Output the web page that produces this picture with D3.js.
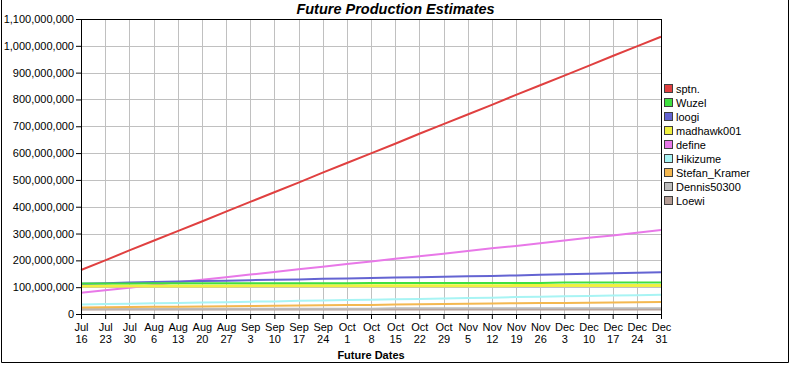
<!DOCTYPE html>
<html>
<head>
<meta charset="utf-8">
<script src="https://cdn.jsdelivr.net/npm/d3@7"></script>
<style>
  body { margin: 0; background: #fff; }
  svg { display: block; font-family: "Liberation Sans", Arial, sans-serif; }
</style>
</head>
<body>
<svg id="chart"></svg>
<script>
// weekly dates, Jul 16 .. Dec 31
const dateLabels = ["2012-07-16","2012-07-23","2012-07-30","2012-08-06","2012-08-13","2012-08-20","2012-08-27",
  "2012-09-03","2012-09-10","2012-09-17","2012-09-24","2012-10-01","2012-10-08","2012-10-15","2012-10-22",
  "2012-10-29","2012-11-05","2012-11-12","2012-11-19","2012-11-26","2012-12-03","2012-12-10","2012-12-17",
  "2012-12-24","2012-12-31"];

const seriesNames = ["sptn.", "Wuzel", "loogi", "madhawk001", "define", "Hikizume", "Stefan_Kramer", "Dennis50300", "Loewi"];
const seriesColors = ["#e04040", "#40e040", "#6464d2", "#f0f040", "#e878e8", "#a8f4f4", "#f4b850", "#bcbcbc", "#b49c94"];

// values in millions
const sptn = [164,200,237,273,309,345,382,418,454,490,527,563,599,635,672,708,744,780,817,853,889,925,962,998,1034];
const wuzel = [114,114,114,115,115,115,115,115,115,115,115,115,116,116,116,116,116,116,116,116,117,117,117,117,117];
const loogi = [113,115,117,119,121,123,124,126,128,129,131,132,134,136,137,139,141,142,144,146,148,150,152,154,156];
const madhawk = [104,104,104,104,104,104,104,105,105,105,105,105,105,105,105,105,105,105,106,106,106,106,106,106,106];
const define = [79,89,98,108,118,128,137,147,157,167,176,186,196,206,215,225,235,245,254,264,274,284,293,303,313];
const hikizume = [35,37,38,40,41,43,44,46,47,49,50,52,53,55,56,58,60,61,63,64,66,67,69,70,72];
const stefan = [24,25,26,27,27,28,29,30,31,32,33,34,34,35,36,37,38,39,40,41,41,42,43,44,45];
const dennis = [20,20,20,20,20,20,20,20,20,20,20,20,20,21,21,21,21,21,21,21,21,21,21,21,21];
const loewi = [17,17,17,17,17,17,17,17,17,17,17,17,17,17,17,17,17,17,17,17,17,17,17,17,17];
const seriesValues = [sptn, wuzel, loogi, madhawk, define, hikizume, stefan, dennis, loewi];

const yTicks = d3.range(0, 1100000001, 100000000);

const width = 791, height = 365;
const margin = { top: 19, right: 130, bottom: 51, left: 81 };

const svg = d3.select("#chart").attr("width", width).attr("height", height);
const parse = d3.utcParse("%Y-%m-%d");
const dates = dateLabels.map(parse);

const x = d3.scaleUtc()
  .domain(d3.extent(dates))
  .range([margin.left, width - margin.right]);
const y = d3.scaleLinear()
  .domain([0, 1100000000])
  .range([height - margin.bottom, margin.top]);

// outer frame (top edge is cut off in the original)
svg.append("path")
  .attr("d", `M1.5,0V${height - 2.5}H${width - 2.5}V0`)
  .attr("fill", "none").attr("stroke", "#000").attr("stroke-width", 1);

// grid
svg.append("g").selectAll("line").data(dates).join("line")
  .attr("x1", d => Math.round(x(d)) + 0.5).attr("x2", d => Math.round(x(d)) + 0.5)
  .attr("y1", y(1100000000)).attr("y2", y(0))
  .attr("stroke", "#c0c0c0");
svg.append("g").selectAll("line").data(yTicks).join("line")
  .attr("x1", x(dates[0])).attr("x2", x(dates[dates.length - 1]))
  .attr("y1", d => Math.round(y(d)) + 0.5).attr("y2", d => Math.round(y(d)) + 0.5)
  .attr("stroke", "#c0c0c0");

// series, drawn last-to-first so sptn ends on top
const line = d3.line()
  .x((d, i) => x(dates[i]))
  .y(d => y(d * 1000000));
seriesValues.slice().reverse().forEach((vals, k) => {
  const i = seriesValues.length - 1 - k;
  svg.append("path")
    .datum(vals)
    .attr("fill", "none")
    .attr("stroke", seriesColors[i])
    .attr("stroke-width", i === 3 ? 3 : 2)
    .attr("d", line);
});

// plot frame
svg.append("rect")
  .attr("x", Math.round(x(dates[0])) + 0.5).attr("y", Math.round(y(1100000000)) + 0.5)
  .attr("width", Math.round(x(dates[dates.length - 1])) - Math.round(x(dates[0])))
  .attr("height", Math.round(y(0)) - Math.round(y(1100000000)))
  .attr("fill", "none").attr("stroke", "#000");

// axes
const yAxis = d3.axisLeft(y).tickValues(yTicks).tickFormat(d3.format(",")).tickSize(5).tickPadding(2);
const gy = svg.append("g").attr("transform", `translate(${margin.left},0)`).call(yAxis);
const fmtMon = d3.utcFormat("%b"), fmtDay = d3.utcFormat("%-d");
const xAxis = d3.axisBottom(x).tickValues(dates).tickFormat("").tickSize(5);
const gx = svg.append("g").attr("transform", `translate(0,${height - margin.bottom})`).call(xAxis);
gx.selectAll(".tick").append("text")
  .attr("fill", "#000").attr("text-anchor", "middle")
  .selectAll("tspan").data(d => [fmtMon(d), fmtDay(d)]).join("tspan")
  .attr("x", 0).attr("y", (d, i) => 17 + i * 12)
  .text(d => d);
[gx, gy].forEach(g => {
  g.selectAll("text").attr("font-size", 11).attr("font-family", "'Liberation Sans', Arial, sans-serif").attr("fill", "#000");
  g.select(".domain").attr("stroke", "#000");
  g.selectAll(".tick line").attr("stroke", "#000");
});

// titles
svg.append("text")
  .attr("x", width / 2).attr("y", 14)
  .attr("text-anchor", "middle")
  .attr("font-size", 14.5).attr("font-weight", "bold").attr("font-style", "italic")
  .text("Future Production Estimates");
svg.append("text")
  .attr("x", (x(dates[0]) + x(dates[dates.length - 1])) / 2).attr("y", 359)
  .attr("text-anchor", "middle")
  .attr("font-size", 11).attr("font-weight", "bold")
  .text("Future Dates");

// legend
const legend = svg.append("g").attr("transform", "translate(664,84)");
const items = legend.selectAll("g").data(seriesNames).join("g")
  .attr("transform", (d, i) => `translate(0,${i * 14})`);
items.append("rect")
  .attr("x", 0.5).attr("y", 0.5).attr("width", 8).attr("height", 8)
  .attr("fill", (d, i) => seriesColors[i]).attr("stroke", "#404040");
items.append("text")
  .attr("x", 12).attr("y", 8.5)
  .attr("font-size", 11)
  .text(d => d);
</script>
</body>
</html>
